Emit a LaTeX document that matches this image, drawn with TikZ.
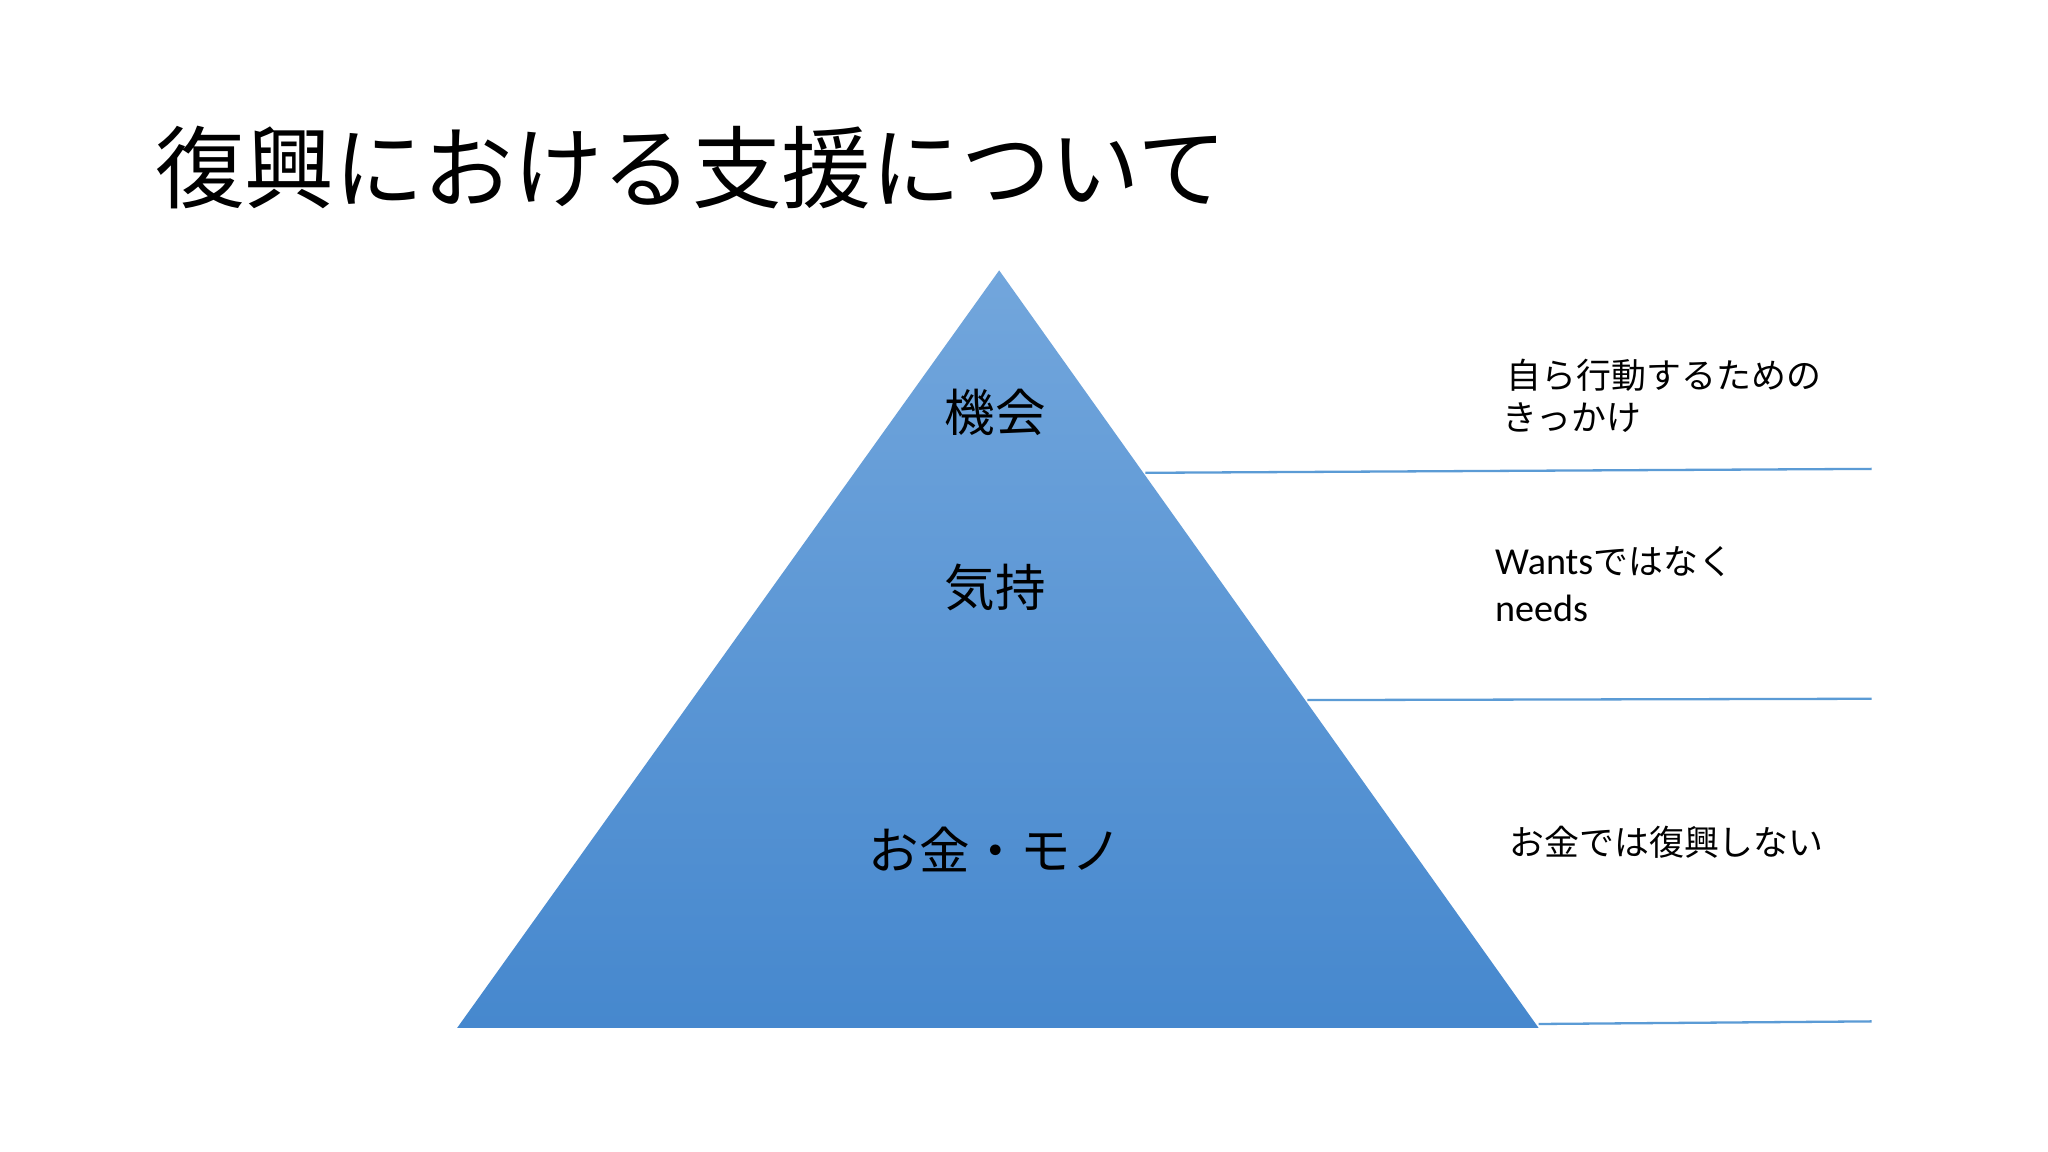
\documentclass[tikz,border=0pt]{standalone}
\usepackage{fontspec}
\setmainfont{Noto Sans CJK JP}
\newfontfamily\latinf{Carlito}
\definecolor{topc}{HTML}{72A6DC}
\definecolor{botc}{HTML}{4688CE}
\definecolor{linec}{HTML}{5B9BD5}
\begin{document}
\begin{tikzpicture}[x=0.01cm,y=-0.01cm,
  lvl/.style={font=\fontsize{11}{13}\selectfont,anchor=center},
  note/.style={font=\fontsize{7.6}{10}\selectfont,anchor=west,inner sep=0pt},
  sep/.style={draw=linec,line width=0.5pt}]
\useasboundingbox (0,0) rectangle (1568,882);
\fill[white] (0,0) rectangle (1568,882);
\coordinate (apex) at (765,207);
\coordinate (bl) at (350,787);
\coordinate (br) at (1178,787);
\shade[top color=topc,bottom color=botc] (apex) -- (br) -- (bl) -- cycle;
\coordinate (a1) at (877,362); \coordinate (b1) at (1433,359);
\coordinate (a2) at (1001,536); \coordinate (b2) at (1433,535);
\coordinate (a3) at (1178,784); \coordinate (b3) at (1433,782);
\draw[sep] (a1) -- (b1);
\draw[sep] (a2) -- (b2);
\draw[sep] (a3) -- (b3);
\node[anchor=west,inner sep=0pt,font=\fontsize{19.5}{22}\selectfont] (title) at (118,128) {復興における支援について};
\node[lvl] (l1) at (762,316) {機会};
\node[lvl] (l2) at (762,450) {気持};
\node[lvl] (l3) at (762,650) {お金・モノ};
\node[note] (n1a) at (1153,287) {自ら行動するための};
\node[note] (n1b) at (1150,320) {きっかけ};
\node[note] (n2a) at (1144,430) {{\latinf\fontsize{8.3}{10}\selectfont Wants}ではなく};
\node[note] (n2b) at (1144,466) {\latinf\fontsize{8.3}{10}\selectfont needs};
\node[note] (n3) at (1155,645) {お金では復興しない};
\end{tikzpicture}
\end{document}
